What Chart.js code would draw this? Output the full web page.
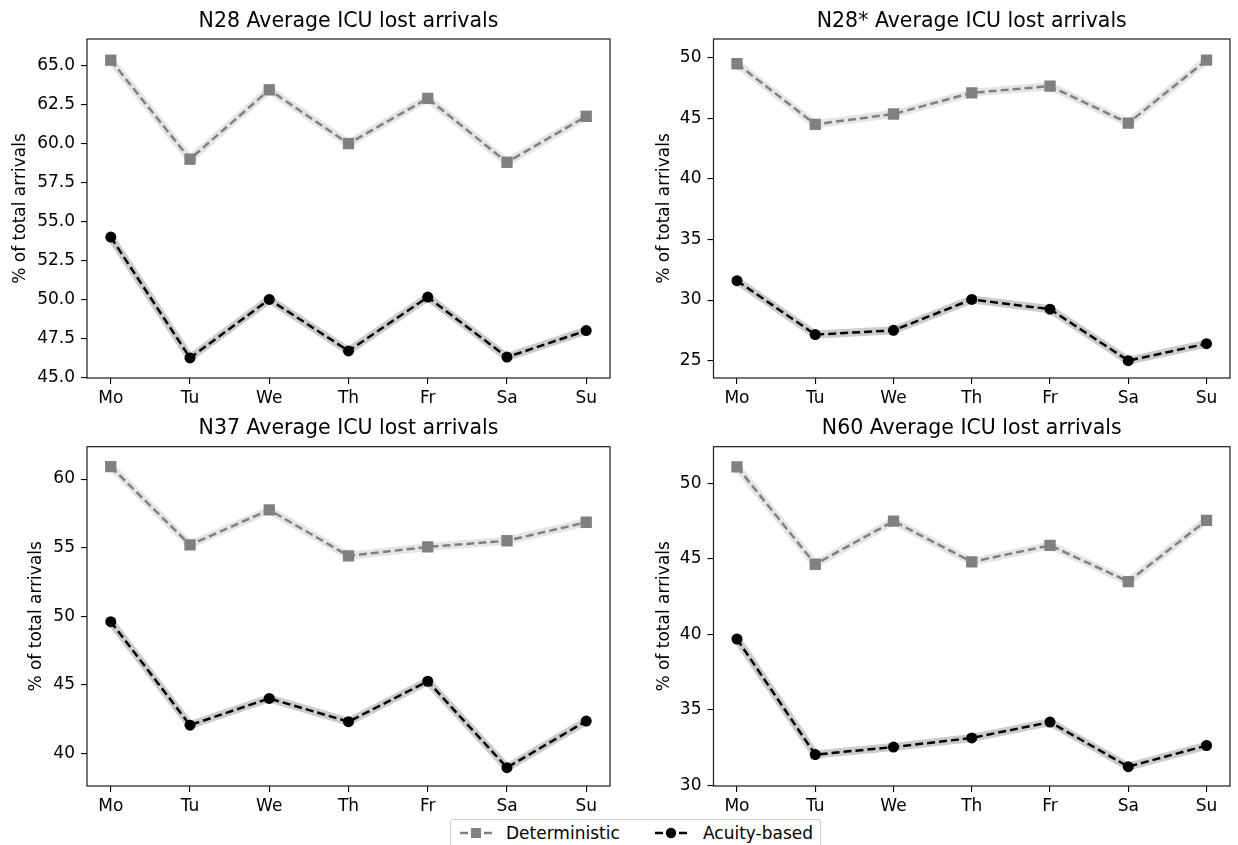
<!DOCTYPE html>
<html>
<head>
<meta charset="utf-8">
<script src="https://cdn.jsdelivr.net/npm/chart.js@4/dist/chart.umd.min.js"></script>
<style>
  html, body { margin: 0; padding: 0; background: #fff; overflow: hidden; }
  body { width: 1238px; height: 845px; position: relative; font-family: "DejaVu Sans", sans-serif; }
  canvas { position: absolute; }
  #legend {
    position: absolute; left: 450px; top: 819px; width: 369px; height: 40px;
    border: 1px solid #d0d0d0; border-radius: 3px; background: #fff;
    font-size: 17px; line-height: 20px; color: #000;
  }
  #legend svg, #legend span { position: absolute; }
</style>
</head>
<body>
<canvas id="c28" width="620" height="410" style="left:0;top:0"></canvas>
<canvas id="c28s" width="618" height="410" style="left:620px;top:0"></canvas>
<canvas id="c37" width="620" height="408" style="left:0;top:410px"></canvas>
<canvas id="c60" width="618" height="408" style="left:620px;top:410px"></canvas>

<div id="legend">
  <svg width="36" height="14" style="left:8px;top:6px">
    <line x1="1" y1="7" x2="9" y2="7" stroke="#808080" stroke-width="2.5"/>
    <line x1="25" y1="7" x2="33" y2="7" stroke="#808080" stroke-width="2.5"/>
    <rect x="12" y="2" width="10" height="10" fill="#808080"/>
  </svg>
  <span style="left:55px;top:3px">Deterministic</span>
  <svg width="36" height="14" style="left:203px;top:6px">
    <line x1="1" y1="7" x2="9" y2="7" stroke="#000" stroke-width="2.5"/>
    <line x1="25" y1="7" x2="33" y2="7" stroke="#000" stroke-width="2.5"/>
    <circle cx="17" cy="7" r="5.2" fill="#000"/>
  </svg>
  <span style="left:252px;top:3px">Acuity-based</span>
</div>

<script>
// dias de la semana
const days = ["Mo", "Tu", "We", "Th", "Fr", "Sa", "Su"];

// N28
const det28 = [65.35, 59.0, 63.45, 60.0, 62.9, 58.8, 61.75];
const acu28 = [54.0, 46.25, 50.0, 46.7, 50.15, 46.3, 48.0];
const ticks28 = [45.0, 47.5, 50.0, 52.5, 55.0, 57.5, 60.0, 62.5, 65.0];

// N28*
const det28s = [49.5, 44.5, 45.35, 47.1, 47.65, 44.6, 49.8];
const acu28s = [31.6, 27.15, 27.5, 30.05, 29.25, 25.0, 26.4];
const ticks28s = [25, 30, 35, 40, 45, 50];

// N37
const det37 = [60.9, 55.2, 57.75, 54.4, 55.05, 55.5, 56.85];
const acu37 = [49.6, 42.05, 44.0, 42.3, 45.25, 38.95, 42.35];
const ticks37 = [40, 45, 50, 55, 60];

// N60
const det60 = [51.1, 44.65, 47.5, 44.8, 45.9, 43.5, 47.55];
const acu60 = [39.7, 32.05, 32.55, 33.15, 34.2, 31.25, 32.65];
const ticks60 = [30, 35, 40, 45, 50];

const FONT = "DejaVu Sans";

// marco completo + titulo centrado sobre el area
const framePlugin = {
  id: "frame",
  afterDraw(chart, args, opts) {
    const { ctx, chartArea: a } = chart;
    ctx.save();
    ctx.strokeStyle = "#1a1a1a";
    ctx.lineWidth = 1.2;
    ctx.strokeRect(a.left, a.top, a.right - a.left, a.bottom - a.top);
    ctx.fillStyle = "#000";
    ctx.font = "20.5px '" + FONT + "'";
    ctx.textAlign = "center";
    ctx.textBaseline = "middle";
    ctx.fillText(opts.text, (a.left + a.right) / 2, a.top - opts.offset);
    ctx.restore();
  }
};

function pts(values) {
  return values.map((v, i) => ({ x: i, y: v }));
}

function crearPanel(id, cfg) {
  const ctx = document.getElementById(id).getContext("2d");
  new Chart(ctx, {
    type: "line",
    data: {
      datasets: [
        {
          label: "Deterministic",
          data: pts(cfg.det),
          borderColor: "#808080",
          backgroundColor: "#808080",
          borderWidth: 2.5,
          borderDash: [8, 4],
          pointStyle: "rect",
          pointRadius: 8,
          pointBorderWidth: 0,
          order: 1,
        },
        {
          label: "Acuity-based",
          data: pts(cfg.acu),
          borderColor: "#000",
          backgroundColor: "#000",
          borderWidth: 2.5,
          borderDash: [8, 4],
          pointStyle: "circle",
          pointRadius: 5.5,
          pointBorderWidth: 0,
          order: 1,
        },
        {
          data: pts(cfg.det),
          borderColor: "#e5e5e5",
          borderWidth: 8,
          pointRadius: 0,
          order: 2,
        },
        {
          data: pts(cfg.acu),
          borderColor: "#cccccc",
          borderWidth: 8,
          pointRadius: 0,
          order: 2,
        },
      ],
    },
    options: {
      responsive: false,
      animation: false,
      layout: { padding: { top: cfg.padTop, right: cfg.padRight, left: 0, bottom: 0 } },
      plugins: {
        legend: { display: false },
        tooltip: { enabled: false },
        frame: { text: cfg.title, offset: cfg.titleOff },
      },
      scales: {
        x: {
          type: "linear",
          min: -0.3,
          max: 6.3,
          afterBuildTicks: (s) => { s.ticks = days.map((d, i) => ({ value: i })); },
          afterFit: (s) => { s.height = 32; },
          ticks: {
            callback: (v, i) => days[i],
            color: "#000",
            font: { family: FONT, size: 17 },
            padding: 4,
            maxRotation: 0,
            autoSkip: false,
          },
          grid: { drawOnChartArea: false, tickLength: 6, color: "#000", lineWidth: 1.1 },
          border: { display: false },
        },
        y: {
          min: cfg.yMin,
          max: cfg.yMax,
          afterBuildTicks: (s) => { s.ticks = cfg.ticks.map((v) => ({ value: v })); },
          afterFit: (s) => { s.width = cfg.axisW; },
          ticks: {
            callback: (v) => v.toFixed(cfg.dec),
            color: "#000",
            font: { family: FONT, size: 17 },
            padding: 6,
          },
          grid: { drawOnChartArea: false, tickLength: 6, color: "#000", lineWidth: 1.1 },
          border: { display: false },
          title: {
            display: true,
            text: "% of total arrivals",
            color: "#000",
            font: { family: FONT, size: 17 },
            padding: { top: cfg.titlePad, bottom: 0 },
          },
        },
      },
    },
    plugins: [framePlugin],
  });
}

crearPanel("c28", {
  title: "N28 Average ICU lost arrivals", det: det28, acu: acu28, ticks: ticks28, dec: 1,
  yMin: 44.96, yMax: 66.71, axisW: 87, padTop: 39, padRight: 10, titlePad: 10.3, titleOff: 17.5,
});
crearPanel("c28s", {
  title: "N28* Average ICU lost arrivals", det: det28s, acu: acu28s, ticks: ticks28s, dec: 0,
  yMin: 23.57, yMax: 51.54, axisW: 93.5, padTop: 39, padRight: 1.5, titlePad: 34.3, titleOff: 17.5,
});
crearPanel("c37", {
  title: "N37 Average ICU lost arrivals", det: det37, acu: acu37, ticks: ticks37, dec: 0,
  yMin: 37.61, yMax: 62.36, axisW: 87, padTop: 36.7, padRight: 10, titlePad: 26.8, titleOff: 18.3,
});
crearPanel("c60", {
  title: "N60 Average ICU lost arrivals", det: det60, acu: acu60, ticks: ticks60, dec: 0,
  yMin: 29.97, yMax: 52.43, axisW: 93.5, padTop: 36.7, padRight: 1.5, titlePad: 34.3, titleOff: 18.3,
});
</script>
</body>
</html>
